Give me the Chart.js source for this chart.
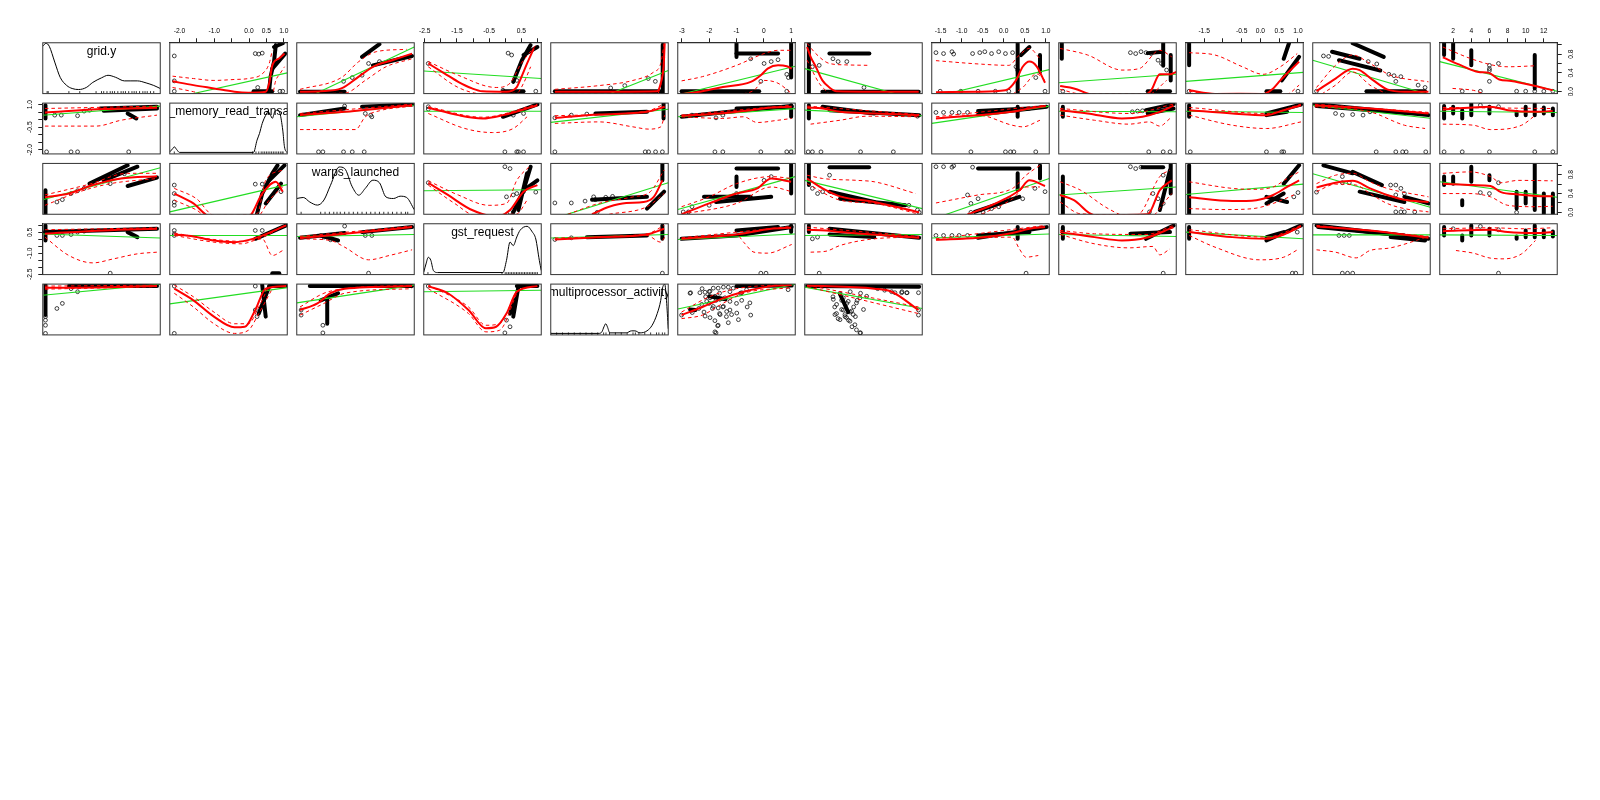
<!DOCTYPE html>
<html><head><meta charset="utf-8">
<script src="https://cdn.jsdelivr.net/npm/chart.js@4.4.1/dist/chart.umd.min.js"></script>
<style>
html,body{margin:0;padding:0;background:#fff;}
#wrap{position:relative;width:1600px;height:800px;overflow:hidden;background:#fff;}
</style></head><body><div id="wrap"></div>
<script>
// ---------- variables (axis ranges) ----------
const diagLabels = ['grid.y','global_memory_read_transactions','warps_launched','gst_request','multiprocessor_activity'];
const varMin = [-0.04, -2.28, -0.04, -2.53, 0, -3.15, 0, -1.71, 0, -1.99, 0, 0.52];
const varMax = [ 1.04,  1.10,  1.04,  1.12, 1,  1.15, 1,  1.08, 1,  1.14, 1, 13.48];

// ---------- tick values / labels ----------
const topAxisTicks = {
  1: [-2,-1.5,-1,-0.5,0,0.5,1],
  3: [-2.5,-2,-1.5,-1,-0.5,0,0.5,1],
  5: [-3,-2,-1,0,1],
  7: [-1.5,-1,-0.5,0,0.5,1],
  9: [-1.5,-1,-0.5,0,0.5,1],
  11: [2,4,6,8,10,12]
};
const topAxisLabels = {
  1: ['-2.0','','-1.0','','0.0','0.5','1.0'],
  3: ['-2.5','','-1.5','','-0.5','','0.5',''],
  5: ['-3','-2','-1','0','1'],
  7: ['-1.5','-1.0','-0.5','0.0','0.5','1.0'],
  9: ['-1.5','','-0.5','0.0','0.5','1.0'],
  11: ['2','4','6','8','10','12']
};
const sideAxisTicks = {
  0: [0,0.2,0.4,0.6,0.8,1.0],
  1: [-2,-1.5,-1,-0.5,0,0.5,1],
  2: [0,0.2,0.4,0.6,0.8,1.0],
  3: [-2.5,-2,-1.5,-1,-0.5,0,0.5,1]
};
const sideAxisLabels = {
  0: ['0.0','','0.4','','0.8',''],
  1: ['-2.0','','','-0.5','','','1.0'],
  2: ['0.0','','0.4','','0.8',''],
  3: ['-2.5','','','-1.0','','','0.5','']
};

// ---------- diagonal densities and rugs ----------
const density1 = [-0.04,.93, -0.01,.99, 0.02,.93, 0.07,.62, 0.12,.32, 0.18,.16, 0.23,.10, 0.29,.08, 0.36,.12, 0.42,.22, 0.50,.31, 0.56,.36, 0.63,.32, 0.71,.25, 0.77,.25, 0.83,.25, 0.91,.21, 0.98,.16, 1.04,.10];
const rug1 = [0.0,0.01,0.2,0.3,0.45,0.5,0.52,0.55,0.58,0.6,0.62,0.65,0.68,0.7,0.72,0.75,0.78,0.8,0.82,0.85,0.88,0.9,0.92,0.95,0.98];
const density2 = [-2.28,.04, -2.2,.10, -2.15,.14, -2.08,.085, -2.0,.03, .13,.03, .23,.27, .30,.40, .38,.60, .48,.76, .55,.83, .62,.76, .67,.70, .74,.83, .82,.86, .89,.80, .97,.47, 1.02,.14, 1.10,.02];
const rug2 = [-2.15,0.1,0.2,0.28,0.35,0.4,0.45,0.5,0.55,0.6,0.65,0.7,0.75,0.8,0.85,0.9,0.95,0.98];
const density3 = [-.04,.31, .02,.33, .08,.24, .15,.18, .21,.28, .27,.57, .35,.93, .40,.90, .47,.54, .53,.375, .59,.51, .66,.67, .72,.62, .78,.34, .85,.31, .91,.355, .97,.33, 1.04,.09];
const rug3 = [0.0,0.18,0.22,0.26,0.3,0.33,0.36,0.4,0.44,0.48,0.52,0.56,0.6,0.64,0.68,0.72,0.76,0.8,0.84,0.88,0.92,0.96,0.98];
const density4 = [-2.53,.05, -2.46,.21, -2.39,.34, -2.31,.28, -2.23,.08, -2.1,.04, -.07,.04, .04,.28, .15,.64, .25,.57, .36,.74, .46,.87, .68,.95, .84,.84, .95,.70, 1.06,.28, 1.12,.08];
const rug4 = [-2.4,-0.1,0.0,0.05,0.1,0.15,0.2,0.25,0.3,0.35,0.4,0.45,0.5,0.55,0.6,0.65,0.7,0.75,0.8,0.85,0.9,0.95,1.0];
const density5 = [0,.03, .41,.03, .435,.06, .453,.16, .468,.22, .482,.16, .503,.04, .643,.04, .687,.08, .716,.08, .76,.04, .819,.08, .863,.19, .906,.42, .936,.68, .95,.91, .97,1.0, .985,.68, 1.0,.12];
const rug5 = [.0,.05,.1,.15,.2,.25,.3,.35,.4,.45,.47,.5,.55,.6,.65,.7,.72,.75,.8,.85,.9,.92,.95,.97];

// ---------- row 1 (y = grid.y) ----------
const row1Pts = [null,
 [-2.15,.76, -2.15,.23, -2.15,.01, .18,.81, .28,.80, .38,.82, .25,.09, .89,.01, .97,.01],
 [.39,.22, .47,.30, .56,.35, .62,.60, .72,.64],
 [-2.39,.60, -.07,.03, .95,.01, .09,.82, .20,.78, .36,.24],
 [.51,.08, .63,.13, .83,.28, .89,.22],
 [-.11,.22, .84,.37, .90,.30, .84,.01, .01,.60, .27,.64, .52,.68, -.48,.70],
 [.065,.53, .123,.56, .24,.70, .284,.64, .358,.64, .504,.09],
 [-1.61,.83, -1.43,.81, -1.23,.85, -1.19,.80, -.74,.81, -.57,.83, -.45,.85, -.29,.81, -.12,.85, .04,.81, .21,.83, .29,.53, .33,.46, .76,.30, .98,.01, -1.51,.01, -1.02,.01, -.61,.01, -.2,.01, .12,.01],
 [.035,.01, .61,.83, .655,.81, .70,.85, .743,.83, .787,.81, .845,.67, .874,.60, .918,.46],
 [-1.9,.01, 1.0,.01],
 [.032,.01, .472,.64, .545,.59, .648,.37, .692,.34, .75,.32, .707,.22, .897,.14, .956,.09, .091,.76, .135,.75],
 [3,.01, 5,.01, 6,.56, 6,.49, 6,.45, 6,.22, 7,.60, 9,.01, 10,.01, 11,.01, 12,.01, 13,.01]
];
const row1Bands = [null,
 [[.13,.01, .67,.01], [.58,.03, .62,.32, .72,.64, .77,.99], [.72,.95, .97,1.03], [.67,.49, 1.04,.81]],
 [[-.01,0, .40,0], [.56,.74, .72,1.01], [.66,.56, 1.02,.76]],
 [[-.07,.01, .57,.01], [.25,.21, .52,.67, .79,.99], [.57,.78, 1.0,.95]],
 [[.035,.01, .93,.01], [.953,-.04, .953,1.0]],
 [[-3.01,.01, -.17,.01], [-1.0,1.03, -1.0,.74], [-1.0,.81, .52,.81], [1.0,1.03, 1.0,.30]],
 [[.035,1.03, .035,-.04], [.21,.81, .55,.81], [.15,0, .97,0]],
 [[.33,1.03, .33,-.04], [.41,.78, .61,.95], [.86,.78, .86,.42]],
 [[.026,1.03, .026,.70], [.889,1.03, .889,.55], [.953,.78, .953,.24], [.757,.01, .947,.01], [.757,.82, .889,.85]],
 [[-1.9,1.03, -1.9,.56], [.62,.70, .76,1.03], [.57,.24, 1.03,.74], [.16,.01, .53,.01]],
 [[.164,.85, .399,.70], [.34,1.03, .604,.74], [.223,.67, .575,.45], [.457,.01, .956,.01]],
 [[1,1.03, 1,.78], [2,1.03, 2,.70], [4,.88, 4,.56], [11,.78, 11,.07]]
];
const row1Green = [null,
 [-2.28,-.15, 1.10,.40], [-.04,-.23, 1.04,.95], [-2.53,.44, 1.12,.28], [0,-.54, 1,.45],
 [-3.15,-.07, 1.15,.54], [0,.49, 1,-.20], [-1.71,-.12, 1.08,.47], [0,.19, 1,.37],
 [-1.99,.22, 1.14,.41], [0,.67, 1,-.07], [.52,.64, 13.48,.01]
];
const row1Red = [null,
 [-2.2,.22, -1.6,.14, -1.01,.07, -.42,0, -.02,-.02, .48,0, .58,.18, .67,.56, .87,.71, 1.02,.81],
 [-.01,0, .18,.01, .37,.07, .53,.32, .66,.53, .85,.68, 1.02,.81],
 [-2.39,.60, -1.89,.39, -1.46,.21, -1.03,.07, -.71,.01, .04,0, .36,.10, .46,.24, .68,.60, .89,.92],
 [.035,0, .56,0, .906,.01, .936,.18, .96,.53, .97,1.03],
 [-3.01,-.05, -2.25,.01, -1.5,.10, -.48,.21, -.11,.35, .14,.49, .52,.56, .84,.54, 1.02,.49],
 [.02,.95, .05,.74, .094,.53, .15,.24, .21,.09, .27,.01, .59,0, .97,0],
 [-1.61,-.01, -.61,0, .04,.03, .29,.24, .45,.53, .61,.64, .78,.54, .98,.19],
 [.012,.12, .129,.07, .304,-.07, .713,-.07, .787,.03, .86,.37, .947,.37, 1.0,.42],
 [-1.9,.03, -1.21,-.05, .07,-.05, .34,.07, .53,.24, 1.03,.64],
 [.032,.01, .194,.28, .34,.49, .399,.46, .516,.24, .633,.05, .78,0, .985,0],
 [.86,.73, 2.88,.56, 4.79,.42, 5.93,.40, 7.08,.26, 8.41,.23, 11.08,.12, 12.98,.03]
];
const row1Upper = [null,
 [-2.2,.33, -1.6,.28, -1.01,.24, -.42,.26, -.02,.28, .38,.38, .58,.60, .67,.88],
 [-.01,.05, .37,.30, .53,.64, .69,.85, .97,.90],
 [-2.39,.64, -1.46,.35, -.28,.09, .15,.18, .46,.56, 1.0,1.03],
 [.035,.05, .41,.13, .70,.24, .877,.42, .936,.60, .965,1.03],
 [-3.01,.23, -2.25,.32, -1.0,.56, .01,.81, .52,.88, 1.02,.88],
 [.02,1.03, .094,.81, .21,.60, .35,.57, .55,.56],
 [-1.61,.66, -.61,.59, .12,.56, .37,.78, .61,.92, .86,.70],
 [.012,.92, .246,.78, .538,.46, .684,.49, .86,.88, .962,.74],
 [-1.9,.83, -1.21,.78, -.48,.53, .07,.37, .53,.53, .98,.81],
 [.032,.09, .194,.56, .34,.78, .487,.60, .663,.35, .985,.21],
 [.86,.95, 3.99,.70, 6.5,.56, 8.03,.53, 11.0,.55]
];
const row1Lower = [null,
 [-2.2,.09, -1.6,0, -1.21,-.07, -.22,-.1, .67,-.05, .77,.24, .89,.38, 1.02,.53],
 [-.01,-.04, .40,-.03, .59,.24, .78,.53, 1.02,.70],
 [-2.39,.53, -1.46,.09, -.71,-.05, .36,-.03, .57,.18, .79,.53],
 [.035,-.05, .906,-.05, .95,.32, .97,.74],
 [-1.0,-.07, -.36,.03, .01,.24, .52,.18, 1.02,-.04],
 [.02,.67, .123,.18, .21,-.05],
 [.21,-.05, .45,.09, .78,.38, .98,.24],
 [.012,.05, .187,-.05, .77,-.05, .918,.24],
 [-1.9,.01, -1.4,-.05, .71,-.05, 1.03,.14],
 [.076,-.05, .194,.14, .34,.42, .487,.14, .633,-.05],
 [1.93,.07, 4.22,.03, 6.12,-.07, 11.08,-.05]
];

// ---------- row 2 (y = global_memory_read_transactions) ----------
const row2Pts = [
 [-.005,-2.14, .22,-2.14, .28,-2.14, .75,-2.14, .07,.30, .13,.30, .28,.26, .34,.57, .39,.63],
 null,
 [.16,-2.14, .20,-2.14, .39,-2.14, .47,-2.14, .58,-2.14, .40,.90, .59,.41, .64,.30, .65,.19],
 [-2.39,.86, -2.39,.70, .25,.30, .57,.41, -.01,-2.14, .36,-2.14, .41,-2.14, .57,-2.14],
 [.035,-2.14, .035,.12, .175,.30, .307,.37, .804,-2.14, .833,-2.14, .892,-2.14, .95,-2.14],
 [-2.63,.30, -1.75,.12, -1.5,.30, -1.79,-2.14, -1.5,-2.14, -.11,-2.14, .84,-2.14, 1.0,-2.14],
 [.029,-2.14, .065,-2.14, .138,-2.14, .475,-2.14, .754,-2.14, .959,.23],
 [-1.61,.48, -1.43,.48, -1.23,.48, -1.06,.48, -.86,.48, -.78,-2.14, .04,-2.14, .16,-2.14, .24,-2.14, .76,-2.14],
 [.766,-2.14, .889,-2.14, .947,-2.14, .626,.52, .67,.57, .713,.59],
 [-1.87,-2.14, .16,-2.14, .57,-2.14, .62,-2.14],
 [.54,-2.14, .707,-2.14, .765,-2.14, .795,-2.14, .962,-2.14, .194,.41, .252,.30, .34,.34, .428,.30, .487,.52],
 [5,.96, 7,.86, 1,-2.14, 3,-2.14, 6,-2.14, 11,-2.14, 13,-2.14]
];
const row2Bands = [
 [[-.015,.96, -.015,.08], [.49,.74, 1.01,.86], [.52,.59, 1.01,.74], [.74,.41, .82,.08]],
 null,
 [[-.01,.30, .40,.74], [.56,.86, 1.02,1.0]],
 [[-.07,.19, 1.0,1.01]],
 [[.38,.41, .819,.52], [.96,1.05, .96,.08]],
 [[-3.01,.19, -1.0,.57, 1.02,.90], [-1.0,.74, 1.02,.86], [1.0,.96, 1.0,.19]],
 [[.035,.96, .035,.08], [.152,.86, .592,.41], [.211,.63, .974,.30]],
 [[-.61,.34, 1.02,.86], [-.61,.57, .61,.74], [.33,.86, .33,.19]],
 [[.035,.86, .035,.19], [.743,.63, .977,1.03], [.757,.41, .977,.74]],
 [[-1.9,.96, -1.9,.19], [.16,.41, 1.08,1.0], [.16,.30, .71,.52]],
 [[.018,1.03, .985,.30], [.032,.90, .78,.45]],
 [[1,.90, 1,.08], [2,.86, 2,.41], [3,.63, 3,.08], [4,1.03, 4,.30], [6,.86, 6,.41], [9,.52, 9,.30], [10,.86, 10,.30], [11,1.03, 11,.30], [12,.81, 12,.41], [13,.74, 13,.30]]
];
const row2Green = [
 [-.04,.29, 1.04,.90], null, [-.04,.19, 1.04,.96], [-2.53,.56, 1.12,.56],
 [0,-.18, 1,.69], [-3.15,.19, 1.15,.73], [0,.63, 1,.26], [-1.71,-.25, 1.08,.90],
 [0,.56, 1,.52], [-1.99,.56, 1.14,.47], [0,.96, 1,.09], [.52,.56, 13.48,.47]
];
const row2Red = [
 [-.02,.48, .52,.70, 1.01,.79],
 null,
 [-.01,.30, .40,.52, .72,.74, 1.02,.96],
 [-2.39,.79, -1.46,.30, -.71,.08, -.07,.30, 1.0,.96],
 [.035,.12, .41,.34, .819,.52, .97,.86],
 [-3.01,.26, -1.62,.41, -.48,.63, .27,.81, 1.02,.86],
 [.02,.81, .152,.74, .30,.52, .592,.41, .974,.30],
 [-1.61,.08, -.61,.30, .20,.52, .61,.74, 1.0,.90],
 [.012,.63, .246,.41, .538,.08, .713,.19, .86,.52, .977,.93],
 [-1.9,.63, -.75,.41, .16,.30, .62,.63, 1.08,.96],
 [.018,.96, .487,.74, .985,.41],
 [.86,.68, 6.12,.86, 8.03,.63, 11.08,.52, 12.98,.57]
];
const row2Upper = [
 [-.02,.74, 1.01,.90],
 null,
 [-.01,.41, 1.02,1.03],
 [-2.39,.86, -.71,.16, 1.0,1.03],
 [.035,.26, .819,.57, .965,1.03],
 [-3.01,.30, 1.02,.96],
 [.02,.90, .974,.34],
 [-1.61,.19, 1.0,.96],
 [.012,.74, .596,.41, .977,1.03],
 [-1.9,.81, .16,.41, 1.08,1.03],
 [.018,1.03, .985,.48],
 [.86,.81, 12.98,.74]
];
const row2Lower = [
 [-.02,-.43, .45,-.43, .68,-.04, 1.01,.30],
 null,
 [-.01,-.66, .50,-.66, .59,.19, .72,.59, 1.02,.90],
 [-2.39,.41, -1.25,-.59, -.39,-.86, .25,-.59, .68,.19],
 [.035,-.25, .41,-.15, .70,-.48, .833,-.63, .936,-.48, .97,.30],
 [-3.01,.19, -1.5,.08, -.74,.19, -.24,-.19, .52,-.04, 1.02,.08],
 [.05,-.30, .30,-.04, .534,.23, .974,.19],
 [-1.61,.08, -.61,.30, .20,-.37, .45,-.48, .86,-.04],
 [.012,.30, .304,-.04, .596,-.30, .772,-.15, .86,-.43, .947,.08],
 [-1.9,.30, -.75,-.37, .16,-.59, 1.08,-.15],
 [.018,.86, .487,.52, .78,-.37, .956,-.59],
 [.86,-.30, 4.22,-.37, 6.12,-.66, 9.55,-.37, 11.08,.30]
];

// ---------- row 3 (y = warps_launched) ----------
const row3Pts = [
 [.09,.22, .14,.27, .22,.40, .28,.46, .34,.51, .58,.61, .71,.82],
 [-2.15,.58, -2.15,.40, -2.15,.22, -2.15,.15, .18,.60, .38,.60, .92,.44],
 null,
 [-2.39,.63, -.01,.97, .15,.93, .36,.40, .57,.44, .15,0, .95,.43, .04,.33, .25,.37],
 [.035,.20, .175,.20, .292,.24, .365,.33, .38,.27, .395,0, .468,.32, .526,.34],
 [-2.95,.01, -2.76,.01, -2.63,.12, -2.0,.15, -1.0,.40, .01,.68, .27,.76],
 [.065,.51, .109,.40, .152,.44, .211,.79, .886,.15, .959,.05, .974,0],
 [-1.61,.97, -1.43,.97, -1.23,.96, -1.19,.99, -.74,.96, -.86,.37, -.78,.19, -.61,.29, -.29,.08, -.12,.12, .12,.29, .45,.29, .74,.51, .98,.44, -.78,0, -.49,0],
 [.889,.79, .801,.40, .845,.29, .889,.19, .772,.01, .61,.97, .655,.93, .70,.96],
 [.89,.33, 1.0,.42],
 [.032,.43, .252,.76, .252,.63, .311,.63, .663,.58, .707,.58, .75,.51, .78,.40, .707,.37, .707,.01, .75,.01, .78,.01, .868,.01],
 [5,.42, 6,.40, 7,.63, 9,0]
];
const row3Bands = [
 [[-.015,.47, -.015,-.03], [.39,.61, .74,1.0], [.52,.68, .83,.97], [.74,.56, 1.01,.74]],
 [[.23,-.03, .38,.40, .67,.83, .82,1.0], [.58,.68, 1.02,1.0], [.48,.19, .92,.61]],
 null,
 [[.25,0, .57,.47, .79,.97], [.57,.47, 1.0,.68], [.41,.05, .68,.83]],
 [[.351,.27, .819,.33], [.95,1.04, .95,.68], [.819,.08, .965,.44]],
 [[-1.0,.93, .52,.93], [-1.0,.76, -1.0,.54], [1.0,1.04, 1.0,.40], [-2.19,.33, -.48,.33], [-1.75,.22, .27,.33]],
 [[.035,1.04, .035,.58], [.211,.96, .548,.96], [.211,.44, .592,.22], [.30,.29, .856,.15]],
 [[-.61,.93, .61,.93], [.33,.83, .33,.47], [.86,1.0, .86,.72], [-.69,.01, .37,.33]],
 [[.035,.76, .035,-.03], [.713,.96, .889,.96], [.953,1.04, .953,.40], [.86,.05, .947,.90]],
 [[-1.9,1.0, -1.9,-.03], [.16,.19, .62,.40], [.16,.33, .71,.22], [.62,.61, 1.03,1.0]],
 [[.091,1.0, .34,.83], [.34,.86, .589,.58], [.399,.44, .78,.22], [.78,.33, .985,.19]],
 [[1,.76, 1,.58], [2,.76, 2,.61], [3,.26, 3,.15], [4,.97, 4,.65], [6,.79, 6,.68], [9,.44, 9,.08], [10,.44, 10,.19], [11,1.04, 11,.05], [12,.40, 12,-.03], [13,.40, 13,-.03]]
];
const row3Green = [
 [-.04,.27, 1.04,.95], [-2.28,.01, 1.10,.59], null, [-2.53,.46, 1.12,.48],
 [0,-.15, 1,.63], [-3.15,.06, 1.15,.76], [0,.68, 1,.08], [-1.71,-.15, 1.08,.72],
 [0,.37, 1,.54], [-1.99,.38, 1.14,.60], [0,.82, 1,.11], [.52,.65, 13.48,.32]
];
const row3Red = [
 [-.02,.32, .20,.40, .42,.58, .68,.72, 1.01,.77],
 [-2.15,.40, -1.6,.19, -1.11,-.09, -.02,-.09, .38,.40, .77,.65, .97,.44],
 null,
 [-2.39,.63, -1.78,.37, -1.03,.05, -.28,-.09, .15,.05, .57,.44, 1.0,.58],
 [.351,-.04, .497,.12, .643,.20, .79,.22, .877,.33, .95,.68],
 [-3.01,-.04, -2.0,.19, -1.0,.40, -.24,.51, .27,.72, 1.0,.65],
 [.02,.72, .152,.51, .30,.34, .592,.22, .974,0],
 [-.86,-.04, -.37,.12, .04,.29, .37,.47, .61,.68, .98,.56],
 [.012,.37, .129,.26, .304,-.06, .757,-.04, .86,.47, .962,.68],
 [-1.9,.32, -.75,.24, -.11,.26, .34,.37, .71,.54, 1.03,.68],
 [.032,.53, .194,.63, .34,.67, .487,.51, .633,.37, .78,.27, .985,.22],
 [.86,.61, 4.22,.58, 6.12,.56, 7.27,.43, 9.17,.38, 11.08,.35, 12.98,.34]
];
const row3Upper = [
 [-.02,.37, .39,.60, .74,.83, 1.01,.83],
 [-2.15,.51, -1.51,.29, -1.01,-.06, .23,-.03, .48,.68, .97,.90],
 null,
 [-2.39,.67, -1.46,.37, -.5,.15, .04,.19, .36,.68, .79,1.0],
 [.146,-.04, .409,.19, .702,.33, .848,.44, .965,.90],
 [-3.01,.12, -2.0,.33, -1.0,.61, .27,.76, 1.02,.72],
 [.02,.79, .152,.72, .446,.68, .592,.65, .944,.40],
 [-1.61,.20, -.61,.37, .21,.51, .53,.79, .86,1.0],
 [.012,.65, .187,.47, .421,.08, .596,-.09, .684,-.04, .86,.76, .947,.90],
 [-1.9,.65, -.75,.51, -.2,.49, .34,.54, .71,.72, 1.03,.86],
 [.032,.61, .194,.79, .34,.83, .487,.65, .633,.51, .985,.33],
 [.86,.83, 3.84,.86, 6.12,.76, 7.27,.63, 9.17,.68, 12.98,.67]
];
const row3Lower = [
 [-.02,.15, .30,.44, .58,.61, 1.01,.72],
 [-2.15,.26, -1.51,.05, -1.21,-.09, .23,-.09, .58,.26, .97,.54],
 null,
 [-2.39,.58, -1.57,.19, -.93,-.06, .36,-.03, .68,.26],
 [.497,-.04, .819,.12, .965,.40],
 [-3.01,-.04, -1.0,.19, .27,.54, 1.02,.44],
 [.02,.61, .30,.26, .592,.19, .974,-.04],
 [-.53,-.04, .21,.29, .53,.54, .86,.54],
 [.012,.22, .187,-.03, .801,-.06, .889,.19, .962,.40],
 [-1.9,.08, -.94,.06, -.2,.08, .34,.19, .89,.37],
 [.032,.44, .194,.60, .37,.58, .487,.40, .633,.19, .78,.08, .985,.01],
 [.86,.40, 3.84,.40, 6.12,.33, 8.03,.15, 11.08,.12, 12.98,.13]
];

// ---------- row 4 (y = gst_request) ----------
const row4Pts = [
 [.09,.28, .14,.28, .22,.35, .28,.52, .34,.59, .58,-2.43],
 [-2.15,.64, -2.15,.40, -2.15,.28, .18,.64, .38,.64],
 [.40,.95, .59,.28, .65,.28, .62,-2.43, .21,.16, .27,-.03],
 null,
 [.035,-.01, .175,.11, .95,-2.43],
 [-.11,-2.43, .08,-2.43],
 [.065,.04, .109,.16, .123,-2.43],
 [-1.61,.28, -1.43,.28, -1.23,.28, -1.06,.28, -.86,.28, .53,-2.43],
 [.889,-2.43],
 [.85,-2.43, .94,-2.43, .98,.52],
 [.223,.28, .267,.28, .311,.28, .252,-2.43, .296,-2.43, .34,-2.43],
 [2,.76, 5,.93, 7,.69, 7,-2.43]
];
const row4Bands = [
 [[-.015,1.0, -.015,-.08], [-.02,.52, 1.01,.76], [.74,.52, .83,.16]],
 [[.18,.04, 1.07,1.0], [.67,-2.43, .87,-2.43]],
 [[-.01,.11, .40,.45], [.56,.52, 1.02,.88], [.18,.28, .34,-.08]],
 null,
 [[.307,.16, .819,.28], [.95,1.0, .95,.04]],
 [[-3.01,.04, -1.0,.28, 1.02,.88], [-1.0,.64, .52,.88], [1.0,1.0, 1.0,.52]],
 [[.035,1.0, .035,.52], [.211,.76, .974,.11], [.211,.35, .592,.16]],
 [[-.61,.11, 1.02,.88], [-.61,.28, .61,.52], [.33,.88, .33,.04]],
 [[.035,.88, .035,.04], [.61,.40, .947,.52], [.743,.04, .977,1.0]],
 [[-1.9,.88, -1.9,.04], [.16,-.08, 1.08,1.0], [.16,.16, .62,.52]],
 [[.032,1.0, .985,.04], [.047,.88, .78,.28], [.663,.16, .956,-.08]],
 [[1,.88, 1,.28], [3,.28, 3,-.08], [4,1.0, 4,.28], [6,.76, 6,.28], [9,.21, 9,.04], [10,.64, 10,.16], [11,1.0, 11,.16], [12,.64, 12,.16], [13,.57, 13,.21]]
];
const row4Green = [
 [-.04,.39, 1.04,.10], [-2.28,.28, 1.10,.28], [-.04,.21, 1.04,.35], null,
 [0,.10, 1,.35], [-3.15,-.01, 1.15,.39], [0,.28, 1,.35], [-1.71,.10, 1.08,.39],
 [0,.35, 1,.21], [-1.99,.52, 1.14,.04], [0,.32, 1,.32], [.52,.32, 13.48,.28]
];
const row4Red = [
 [-.02,.40, .52,.64, 1.01,.76],
 [-2.15,.35, -1.6,.21, -1.01,-.08, -.42,-.2, .18,.09, 1.07,1.0],
 [-.01,.09, .40,.40, .72,.64, 1.02,.88],
 null,
 [.035,-.01, .41,.16, .819,.35, .965,.76],
 [-3.01,.04, -1.0,.35, .27,.76, 1.0,.83],
 [.02,.69, .182,.64, .30,.52, .592,.35, .974,.11],
 [-1.61,-.03, -.61,.11, .20,.45, .61,.76, .98,.88],
 [.012,.52, .304,.16, .538,-.08, .743,.11, .977,.88],
 [-1.9,.52, -.75,.16, .16,.04, .62,.35, 1.08,.95],
 [.032,.93, .487,.64, .985,.11],
 [.86,.59, 6.12,.69, 8.03,.52, 11.08,.45, 12.98,.52]
];
const row4Upper = [
 [-.02,.69, 1.01,.83],
 [-2.15,.45, -1.01,-.01, -.22,-.14, .38,.16, 1.07,1.05],
 [-.01,.21, 1.02,.95],
 null,
 [.035,.09, .819,.40, .965,1.0],
 [-3.01,.11, 1.02,.93],
 [.02,.88, .974,.21],
 [-1.61,.04, .98,1.0],
 [.012,.64, .304,.40, .743,.35, .977,1.0],
 [-1.9,.69, .16,.16, 1.08,1.0],
 [.032,1.0, .985,.21],
 [.86,.76, 6.12,.83, 9.93,.76, 12.98,.83]
];
const row4Lower = [
 [-.02,.16, .20,-1.16, .42,-1.69, .61,-1.4, .83,-1.04, 1.01,-.92],
 [-2.15,.28, -1.01,-.2, -.22,-.32, .38,.04, .67,-1.16, .97,-.8],
 [-.01,.04, .27,-.08, .40,-.56, .62,-1.47, .81,-1.16, 1.02,-.75],
 null,
 [.035,-.01, .819,.28, .936,-.2, .97,.16],
 [-3.01,.04, -1.0,.35, -.74,-.2, -.36,-.92, .14,-.99, 1.02,-.37],
 [.05,-.92, .182,-.85, .30,-.44, .592,.04, .974,.16],
 [-1.61,-.03, .20,.16, .37,-.68, .53,-1.28, .82,-1.16],
 [.012,.35, .304,-.32, .596,-.61, .801,-.51, .86,-1.11, .947,-.68],
 [-1.9,.28, -1.21,-.56, -.02,-1.47, .62,-1.28, 1.03,-.68],
 [.032,-.75, .194,-.92, .37,-1.33, .487,-.8, .663,-.61, .985,.21],
 [2.31,-.8, 4.22,-.99, 6.12,-1.35, 7.65,-1.4, 9.55,-1.04, 11.08,-.08]
];

// ---------- row 5 (y = multiprocessor_activity) ----------
const row5Pts = [
 [-.015,.19, -.015,.03, .09,.52, .14,.62, .22,.91, .28,.85, -.015,.36, -.015,.29],
 [-2.15,.96, -2.15,.03, .18,.96, .18,.49, .23,.36],
 [0,.49, 0,.39, .20,.19, .20,.04],
 [-2.39,.96, -.01,.04, .04,.29, .15,.16],
 null,
 [-3.01,.39, -2.7,.82, -1.69,.18, -1.75,.04, -2.26,.91, -2.13,.75, -2.0,.62, -1.88,.52, -1.75,.68, -1.62,.42, -1.5,.55, -1.37,.36, -1.24,.49, -1.0,.62, -.81,.68, -.61,.55, -.48,.39, -1.62,.82, -2.0,.85, -1.24,.85, -.86,.82, -2.38,.52, -2.19,.45, -1.3,.24,
  -2.68,.83, -2.34,.83, -2.15,.84, -1.97,.86, -1.85,.92, -1.67,.92, -1.48,.94, -1.30,.94, -1.12,.92, -1.97,.73, -1.79,.76, -1.61,.70, -1.42,.73, -1.24,.66, -2.09,.66, -2.27,.60, -1.85,.56, -1.67,.53, -1.48,.56, -1.36,.46, -1.18,.40, -.99,.43, -.93,.30, -1.6,.40, -1.97,.34, -2.15,.37, -1.79,.28, -1.67,.19, -1.79,.06, -.51,.63, -2.64,.48, -2.62,.44, -.81,.83, -.63,.89, .83,.99, .89,.89],
 [.475,.04, .402,.16, .968,.49, .968,.39, .24,.75, .255,.55, .27,.42, .284,.32, .314,.68, .328,.49, .343,.36, .358,.62, .372,.29, .387,.45, .416,.55, .431,.36, .446,.68, .30,.82, .387,.85, .475,.82, .62,.91, .68,.88, .739,.85, .827,.85, .871,.83, .968,.83,
  .243,.70, .271,.60, .314,.50, .342,.40, .356,.34, .399,.47, .385,.27, .413,.40, .427,.20, .44,.10, .47,.04, .50,.50, .30,.30, .257,.40, .328,.73, .37,.66, .44,.63, .47,.73, .527,.76, .768,.83, .825,.83, .868,.83]
];
const row5Bands = [
 [[-.015,.98, -.015,.39], [.20,.96, 1.01,.96]],
 [[.38,.98, .48,.36], [.28,.42, .58,.95], [.58,.96, 1.07,.96]],
 [[.24,.75, .24,.22], [.18,.68, .34,.82], [.08,.96, 1.02,.96]],
 [[.25,.36, .41,.95], [.15,.42, .30,.68], [.36,.96, 1.0,.96]],
 null,
 [[-1.0,.96, 1.02,.97], [-2.0,.76, -1.4,.70], [-2.7,.50, -2.5,.49]],
 [[.02,.96, .974,.95], [.30,.80, .37,.45]]
];
const row5Green = [
 [-.04,.78, 1.04,1.0], [-2.28,.61, 1.10,.93], [-.04,.63, 1.04,.98], [-2.53,.85, 1.12,.88],
 null, [-3.15,.51, 1.15,1.0], [0,.94, 1,.52]
];
const row5Red = [
 [-.02,.93, .20,.93, 1.01,.96],
 [-2.15,.91, -1.6,.68, -1.01,.36, -.42,.15, -.12,.16, .18,.49, .48,.91, 1.07,.96],
 [-.01,.49, .15,.62, .27,.82, .40,.91, 1.02,.96],
 [-2.39,.96, -1.78,.82, -1.14,.49, -.6,.13, -.28,.16, .04,.42, .36,.85, 1.0,.96],
 null,
 [-3.01,.39, -2.25,.55, -1.5,.72, -.74,.85, .27,.96, 1.02,.98],
 [.02,.97, .592,.91, .739,.85, .968,.49]
];
const row5Upper = [
 [-.02,.96, 1.01,.98],
 [-2.15,.98, -1.6,.75, -1.01,.45, -.42,.22, -.02,.22, .28,.55, .58,.98],
 [-.01,.55, .21,.82, .40,.91, 1.02,.98],
 [-2.39,.98, -1.14,.55, -.6,.19, -.18,.22, .36,.88],
 null,
 [-3.01,.45, -2.0,.75, -1.0,.91, 1.02,1.0],
 [.02,.98, .968,.55]
];
const row5Lower = [
 [-.02,.90, 1.01,.95],
 [-2.15,.82, -1.6,.55, -1.01,.22, -.42,.03, -.02,.09, .28,.42, .67,.91],
 [-.01,.39, .21,.62, .40,.82, 1.02,.91],
 [-2.39,.91, -1.14,.42, -.6,.06, -.18,.09, .36,.82],
 null,
 [-3.01,.32, -2.25,.39, -1.5,.62, -.74,.82, 1.02,.93],
 [.02,.95, .968,.42]
];

// ---------- assembly ----------
const rowPts = [row1Pts,row2Pts,row3Pts,row4Pts,row5Pts];
const rowBands = [row1Bands,row2Bands,row3Bands,row4Bands,row5Bands];
const rowGreen = [row1Green,row2Green,row3Green,row4Green,row5Green];
const rowRed = [row1Red,row2Red,row3Red,row4Red,row5Red];
const rowUpper = [row1Upper,row2Upper,row3Upper,row4Upper,row5Upper];
const rowLower = [row1Lower,row2Lower,row3Lower,row4Lower,row5Lower];
const densities = [density1,density2,density3,density4,density5];
const rugs = [rug1,rug2,rug3,rug4,rug5];

const FONT = "'Liberation Sans', Arial, Helvetica, sans-serif";
Chart.defaults.font.family = FONT;
Chart.defaults.color = '#000';

const LINE = 0.2 * 0.66 * 72;          // one margin line in px
const OMA = 4 * LINE;
const cellW = (1600 - 2 * OMA) / 12, cellH = (800 - 2 * OMA) / 12;
const panelW = cellW - LINE, panelH = cellH - LINE;
const MARGIN = 32, AXIS = 20;
const RED = '#ff0000', GREEN = '#22dd22';

function xy(flat) { const o = []; for (let i = 0; i < flat.length; i += 2) o.push({x: flat[i], y: flat[i + 1]}); return o; }

function axisCfg(min, max, show, position, ticks, labels, vertical) {
  const cfg = {type: 'linear', min, max, display: show, position};
  if (show) {
    Object.assign(cfg, {
      afterFit: s => { if (vertical) s.width = AXIS; else s.height = AXIS; },
      afterBuildTicks: s => { s.ticks = ticks.map(v => ({value: v})); },
      ticks: {
        autoSkip: false, color: '#000', font: {size: 6.7, family: FONT},
        padding: vertical ? (position === 'left' ? 2.6 : 5.2) : 3.4,
        minRotation: vertical ? 90 : 0, maxRotation: vertical ? 90 : 0,
        crossAlign: vertical ? 'center' : 'near',
        callback: (v, i) => labels[i]
      },
      grid: {display: true, drawOnChartArea: false, drawTicks: true, tickLength: 4.5, color: '#222', lineWidth: 1},
      border: {display: true, color: '#222', width: 1}
    });
  }
  return cfg;
}

const boxPlugin = {
  id: 'panelBox',
  afterDraw(chart) {
    const a = chart.chartArea, ctx = chart.ctx;
    ctx.save(); ctx.strokeStyle = '#333'; ctx.lineWidth = 1;
    ctx.strokeRect(a.left, a.top, a.right - a.left, a.bottom - a.top);
    ctx.restore();
  }
};
function labelPlugin(text) {
  return {
    id: 'diagLabel',
    afterDatasetsDraw(chart) {
      const a = chart.chartArea, ctx = chart.ctx;
      ctx.save(); ctx.beginPath(); ctx.rect(a.left, a.top, a.right - a.left, a.bottom - a.top); ctx.clip();
      ctx.font = '12px ' + FONT; ctx.fillStyle = '#000'; ctx.textAlign = 'center'; ctx.textBaseline = 'alphabetic';
      ctx.fillText(text, (a.left + a.right) / 2, a.top + 12.3);
      ctx.restore();
    }
  };
}

function lineDs(flat, color, width, dash, order, smooth) {
  return {data: xy(flat), showLine: true, borderColor: color, borderWidth: width, borderDash: dash || [],
    pointRadius: 0, fill: false, clip: 0, order, cubicInterpolationMode: smooth ? 'monotone' : 'default', tension: 0,
    borderCapStyle: 'butt'};
}

const wrap = document.getElementById('wrap');
function buildPanel(r, c) {
  const diag = r === c;
  const pl = OMA + c * cellW + LINE / 2, pt = OMA + r * cellH + LINE / 2;
  const cl = Math.floor(pl - MARGIN), ct = Math.floor(pt - MARGIN);
  const cw = Math.ceil(pl + panelW + MARGIN) - cl, ch = Math.ceil(pt + panelH + MARGIN) - ct;
  const topAxis = r === 0 && c % 2 === 1;
  const leftAxis = c === 0 && r % 2 === 1;
  const rightAxis = c === 11 && r % 2 === 0;
  const canvas = document.createElement('canvas');
  canvas.width = cw; canvas.height = ch;
  canvas.style.cssText = `position:absolute;left:${cl}px;top:${ct}px;width:${cw}px;height:${ch}px;`;
  wrap.appendChild(canvas);

  const datasets = [];
  const plugins = [boxPlugin];
  let yMin = varMin[r], yMax = varMax[r];
  if (diag) {
    yMin = 0; yMax = 1;
    datasets.push(lineDs(densities[r], '#000', 1, null, 1, true));
    datasets.push({data: rugs[r].map(v => ({x: v, y: 0.025})), pointStyle: 'line', rotation: 90, pointRadius: 1.2,
      borderColor: '#000', borderWidth: 0.8, clip: 0, order: 2});
    plugins.push(labelPlugin(diagLabels[r]));
  } else {
    datasets.push(lineDs(rowRed[r][c], RED, 2, null, 0, true));
    datasets.push(lineDs(rowUpper[r][c], RED, 1, [3.5, 3], 1, true));
    datasets.push(lineDs(rowLower[r][c], RED, 1, [3.5, 3], 1, true));
    datasets.push(lineDs(rowGreen[r][c], GREEN, 1.1, null, 2, false));
    for (const b of rowBands[r][c]) {
      const d = lineDs(b, '#000', 4, null, 3, false);
      d.borderCapStyle = 'round'; d.borderJoinStyle = 'round';
      datasets.push(d);
    }
    datasets.push({data: xy(rowPts[r][c]), pointRadius: 1.9, pointStyle: 'circle', borderColor: '#111',
      backgroundColor: 'rgba(0,0,0,0)', borderWidth: 0.8, clip: 0, order: 3, showLine: false});
  }

  const xScale = axisCfg(varMin[c], varMax[c], topAxis, 'top', topAxisTicks[c], topAxisLabels[c], false);
  const yScale = axisCfg(yMin, yMax, leftAxis || rightAxis, rightAxis ? 'right' : 'left',
    sideAxisTicks[r], sideAxisLabels[r], true);

  new Chart(canvas, {
    type: 'scatter',
    data: {datasets},
    options: {
      responsive: false, devicePixelRatio: 1, animation: false, events: [],
      layout: {padding: {
        left: pl - cl - (leftAxis ? AXIS : 0),
        right: cl + cw - pl - panelW - (rightAxis ? AXIS : 0),
        top: pt - ct - (topAxis ? AXIS : 0),
        bottom: ct + ch - pt - panelH
      }},
      scales: {x: xScale, y: yScale},
      plugins: {legend: {display: false}, tooltip: {enabled: false}, title: {display: false}}
    },
    plugins
  });
}

for (let r = 0; r < 5; r++) {
  const nCols = r === 4 ? 7 : 12;
  for (let c = 0; c < nCols; c++) buildPanel(r, c);
}
</script></body></html>
